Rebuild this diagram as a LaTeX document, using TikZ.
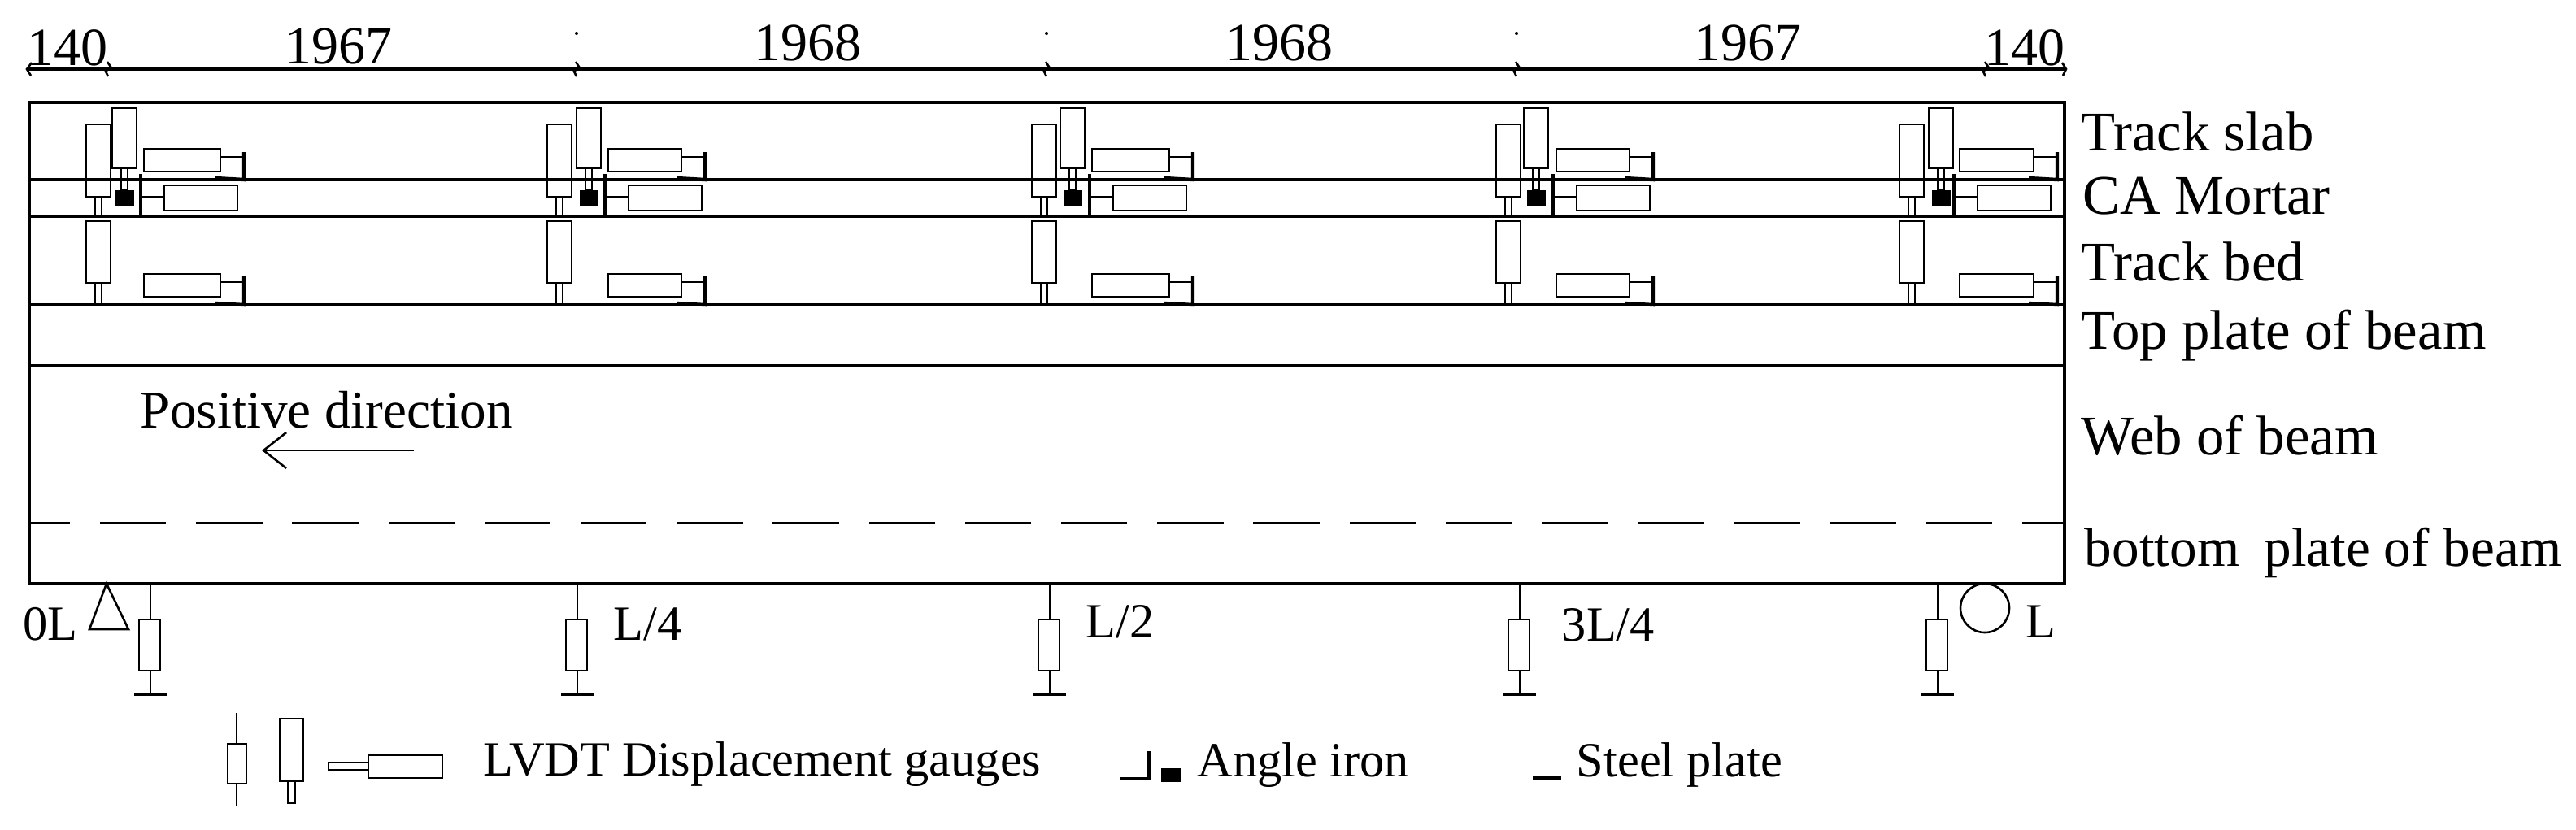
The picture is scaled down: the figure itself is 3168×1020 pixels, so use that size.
\documentclass[tikz,border=0pt]{standalone}
\usepackage{fontspec}
\setmainfont{Liberation Serif}
\usetikzlibrary{arrows.meta}
\tikzset{
	thinl/.style={line width=0.65pt},
	mainl/.style={line width=0.85pt},
	thickl/.style={line width=1.1pt},
	lab/.style={anchor=base west, inner sep=0pt, font=\fontsize{15.1}{15.1}\selectfont},
	dimlab/.style={lab, font=\fontsize{16.5}{16.5}\selectfont},
	layerlab/.style={lab, font=\fontsize{17.2}{17.2}\selectfont},
}

\begin{document}
\begin{tikzpicture}[x=0.25pt, y=-0.25pt]
	\useasboundingbox (0, 0) rectangle (3168, 1020);

	% dimensions
	\draw[mainl] (35, 85) -- (2539, 85);
	\foreach \xt in {133, 709, 1287, 1865, 2442}
		\draw[thinl] (\xt-1, 76) -- (\xt+3, 82) -- (\xt-3, 88) -- (\xt, 94);
	\draw[thinl] (39, 77) -- (33, 85) -- (38, 93);
	\draw[thinl] (2536, 77) -- (2541, 85) -- (2537, 93);
	\foreach \xt in {709, 1287, 1865}
		\fill (\xt, 41) circle (2);
	\node[dimlab] (spana) at (33, 80) {140};
	\node[dimlab] (spanb) at (350, 78) {1967};
	\node[dimlab] (spanc) at (927, 74) {1968};
	\node[dimlab] (spand) at (1507, 74) {1968};
	\node[dimlab] (spane) at (2083, 74) {1967};
	\node[dimlab] (spanf) at (2440, 80) {140};

	% beam and layers
	\draw[mainl] (36, 126) rectangle (2539, 718);
	\foreach \yl in {221, 266, 375, 450}
		\draw[mainl] (36, \yl) -- (2539, \yl);
	\draw[thinl, dash pattern=on 20.35pt off 9.2pt, dash phase=7.8pt] (36, 643) -- (2539, 643);
	\node[layerlab] (slab) at (2559, 185) {Track slab};
	\node[layerlab] (mortar) at (2561, 263) {CA Mortar};
	\node[layerlab] (bed) at (2559, 345) {Track bed};
	\node[layerlab] (topplate) at (2559, 429) {Top plate of beam};
	\node[layerlab] (web) at (2559, 559) {Web of beam};
	\node[layerlab, font=\fontsize{16.8}{16.8}\selectfont] (botplate) at (2563, 696) {bottom\hspace{0.45em}plate of beam};

	\node[lab, font=\fontsize{16.3}{16.3}\selectfont] (positive) at (172, 526) {Positive direction};
	\coordinate (dirfrom) at (509, 554);
	\coordinate (dirto) at (322, 554);
	\draw[thinl, -{Straight Barb[length=7pt, width=11pt]}] (dirfrom) -- (dirto);

	% gauges on the deck
	\foreach \xa/\xb/\xc/\xd/\xr in {106/138/177/202/300, 673/709/748/773/867, 1269/1304/1343/1369/1467, 1840/1874/1914/1939/2033, 2336/2372/2410/2432/2530} {
		\draw[thinl] (\xa, 153) rectangle (\xa+30, 242);
		\draw[thinl] (\xa+11, 242) rectangle (\xa+19, 266);
		\draw[thinl] (\xb, 133) rectangle (\xb+30, 207);
		\draw[thinl] (\xb+11, 207) rectangle (\xb+19, 234);
		\fill (\xb+4, 234) rectangle (\xb+27, 253);
		\draw[thinl] (\xc, 183) rectangle (\xr-29, 211);
		\draw[thinl] (\xr-29, 193) -- (\xr, 193);
		\draw[thickl] (\xr, 187) -- (\xr, 221) -- (\xr-35, 219);
		\draw[thinl] (\xd, 228) rectangle (\xd+90, 259);
		\draw[thinl] (\xd-29, 242) -- (\xd, 242);
		\draw[thickl] (\xd-29, 214) -- (\xd-29, 266);
		\draw[thinl] (\xd-29, 267) -- (\xd+5, 267);
		\draw[thinl] (\xa, 272) rectangle (\xa+30, 348);
		\draw[thinl] (\xa+11, 348) rectangle (\xa+19, 375);
		\draw[thinl] (\xc, 337) rectangle (\xr-29, 365);
		\draw[thinl] (\xr-29, 347) -- (\xr, 347);
		\draw[thickl] (\xr, 339) -- (\xr, 375) -- (\xr-35, 373);
	}
	\draw[thinl] (1240, 267) -- (1340, 267);
	\draw[mainl] (1240, 375.5) -- (1335, 375.5);
	\draw[mainl] (2397, 375.5) -- (2430, 375.5);

	% gauges under the beam
	\foreach \xs in {185, 710, 1291, 1869, 2383} {
		\draw[thinl] (\xs, 718) -- (\xs, 762);
		\draw[thinl] (\xs-14, 762) rectangle (\xs+12, 825);
		\draw[thinl] (\xs, 825) -- (\xs, 854);
		\draw[mainl] (\xs-20, 854) -- (\xs+20, 854);
	}
	\draw[thinl] (131, 718) -- (158, 774) -- (110, 774) -- cycle;
	\draw[thinl] (2441, 748) circle (30);
	\node[lab] (posa) at (28, 787) {0L};
	\node[lab] (posb) at (754, 787) {L/4};
	\node[lab] (posc) at (1335, 784) {L/2};
	\node[lab] (posd) at (1920, 788) {3L/4};
	\node[lab] (pose) at (2491, 784) {L};

	% legend
	\draw[thinl] (291, 877) -- (291, 915);
	\draw[thinl] (280, 915) rectangle (303, 964);
	\draw[thinl] (291, 964) -- (291, 992);
	\draw[thinl] (344, 884) rectangle (373, 961);
	\draw[thinl] (354, 961) rectangle (363, 988);
	\draw[thinl] (404, 938) rectangle (453, 947);
	\draw[thinl] (453, 929) rectangle (544, 957);
	\node[lab] (gaugelab) at (594, 954) {LVDT Displacement gauges};
	\draw[thickl] (1378, 958) -- (1413, 958) -- (1413, 924);
	\fill (1428, 945) rectangle (1453, 962);
	\node[lab] (anglelab) at (1472, 955) {Angle iron};
	\draw[mainl] (1885, 957) -- (1920, 957);
	\node[lab] (platelab) at (1938, 955) {Steel plate};
\end{tikzpicture}
\end{document}
